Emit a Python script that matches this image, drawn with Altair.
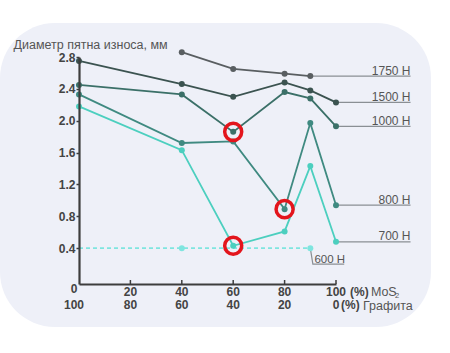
import altair as alt
import pandas as pd

# ---- data ----
series_names = ["1750 H", "1500 H", "1000 H", "800 H", "700 H", "600 H"]
x_1750 = [40, 60, 80, 90]
y_1750 = [2.86, 2.65, 2.59, 2.56]
x_1500 = [0, 40, 60, 80, 90, 100]
y_1500 = [2.75, 2.46, 2.30, 2.48, 2.38, 2.23]
x_1000 = [0, 40, 60, 80, 90, 100]
y_1000 = [2.45, 2.33, 1.86, 2.36, 2.28, 1.93]
x_800 = [0, 40, 60, 80, 90, 100]
y_800 = [2.33, 1.72, 1.74, 0.89, 1.97, 0.94]
x_700 = [0, 40, 60, 80, 90, 100]
y_700 = [2.18, 1.63, 0.43, 0.61, 1.43, 0.48]
x_600 = [0, 40, 60, 90]
y_600 = [0.4, 0.4, 0.4, 0.4]
marker_600 = [False, True, False, True]

highlight_x = [60, 80, 60]
highlight_y = [1.86, 0.89, 0.43]

mos2_ticks = [0, 20, 40, 60, 80, 100]
mos2_labels = ["0", "20", "40", "60", "80", "100"]
graphite_labels = ["100", "80", "60", "40", "20", "0"]
y_ticks = [0.4, 0.8, 1.2, 1.6, 2.0, 2.4, 2.8]

colors = ["#595e61", "#3b5350", "#3b7068", "#3f8a81", "#4ccfbf", "#7fe5df"]

# ---- tables ----
rows = []
for name, xs, ys in [("1750 H", x_1750, y_1750), ("1500 H", x_1500, y_1500),
                     ("1000 H", x_1000, y_1000), ("800 H", x_800, y_800),
                     ("700 H", x_700, y_700)]:
    for i, (a, b) in enumerate(zip(xs, ys)):
        rows.append({"series": name, "x": a, "y": b, "o": i, "m": True})
for i, (a, b, m) in enumerate(zip(x_600, y_600, marker_600)):
    rows.append({"series": "600 H", "x": a, "y": b, "o": i, "m": m})
df = pd.DataFrame(rows)

label_end = 129
lead_rows = []
for name, xs, ys in [("1750 H", x_1750, y_1750), ("1500 H", x_1500, y_1500),
                     ("1000 H", x_1000, y_1000), ("800 H", x_800, y_800),
                     ("700 H", x_700, y_700)]:
    lead_rows.append({"series": name, "o": 0, "x": xs[-1], "y": ys[-1]})
    lead_rows.append({"series": name, "o": 1, "x": label_end, "y": ys[-1]})
lead_rows += [
    {"series": "600 H", "o": 0, "x": x_600[-1], "y": y_600[-1]},
    {"series": "600 H", "o": 1, "x": 91.0, "y": 0.2},
    {"series": "600 H", "o": 2, "x": 103.2, "y": 0.2},
]
lead = pd.DataFrame(lead_rows)

lab = pd.DataFrame({
    "series": series_names[:5],
    "x": [label_end] * 5,
    "y": [y_1750[-1], y_1500[-1], y_1000[-1], y_800[-1], y_700[-1]],
})
lab600 = pd.DataFrame({"series": ["600 H"], "x": [91.6], "y": [0.2]})

hl = pd.DataFrame({"x": highlight_x, "y": highlight_y})
xl = pd.DataFrame({"x": mos2_ticks, "top": mos2_labels, "bot": graphite_labels})

FONT = "Liberation Sans"
xs_ = alt.Scale(domain=[0, 100], nice=False, zero=False)
ys_ = alt.Scale(domain=[-0.05, 2.8], nice=False, zero=False)
cs = alt.Scale(domain=series_names, range=colors)

x_axis = alt.Axis(labels=False, ticks=False, title=None, grid=False, zindex=1,
                  domainColor="#3d3d3d", domainWidth=2.2)
y_axis = alt.Axis(
    values=y_ticks, format=".1f", grid=False, zindex=1,
    title="Диаметр пятна износа, мм", titleAngle=0, titleAlign="left",
    titleX=-66, titleY=-13, titleBaseline="middle", titleFontWeight="normal",
    titleFontSize=12.5, titleColor="#555555", titleFont=FONT,
    labelFont=FONT, labelFontWeight="bold", labelFontSize=12, labelColor="#444444",
    labelPadding=1, tickSize=3, tickColor="#3d3d3d", tickWidth=1.5,
    domainColor="#3d3d3d", domainWidth=2.2)

X = lambda: alt.X("x:Q", scale=xs_, axis=x_axis, title=None)
Y = lambda: alt.Y("y:Q", scale=ys_, axis=y_axis, title="Диаметр пятна износа, мм")

one = pd.DataFrame({"a": [0]})
bg = alt.Chart(one).mark_rect(color="#eef0f8", cornerRadius=55).encode(
    x=alt.value(-79), x2=alt.value(352), y=alt.value(-34), y2=alt.value(270)
)

xticks = alt.Chart(xl[xl.x > 0]).mark_rule(color="#3d3d3d", strokeWidth=1.5).encode(
    x=X(), y=alt.value(223), y2=alt.value(227)
)

leaders = alt.Chart(lead).mark_line(color="#8a8f94", strokeWidth=1.2).encode(
    x=X(), y=Y(), detail="series:N", order="o:Q"
)

solid = alt.Chart(df[df.series != "600 H"]).mark_line(strokeWidth=1.8).encode(
    x=X(), y=Y(), color=alt.Color("series:N", scale=cs, legend=None),
    detail="series:N", order="o:Q"
)
dashed = alt.Chart(df[df.series == "600 H"]).mark_line(strokeWidth=1.6, strokeDash=[4, 3]).encode(
    x=X(), y=Y(), color=alt.Color("series:N", scale=cs, legend=None), order="o:Q"
)
pts = alt.Chart(df[df.m]).mark_circle(size=36, opacity=1).encode(
    x=X(), y=Y(), color=alt.Color("series:N", scale=cs, legend=None)
)

labels = alt.Chart(lab).mark_text(align="right", baseline="alphabetic", dy=-1.5,
                                  font=FONT, fontSize=12, color="#555555").encode(
    x=X(), y=Y(), text="series:N"
)
labels600 = alt.Chart(lab600).mark_text(align="left", baseline="alphabetic", dy=-1.5,
                                        font=FONT, fontSize=11.5, color="#555555").encode(
    x=X(), y=Y(), text="series:N"
)

circles = alt.Chart(hl).mark_point(shape="circle", size=290, filled=False,
                                   color="#e3151c", strokeWidth=3.5, opacity=1).encode(
    x=X(), y=Y()
)

xt_first = alt.Chart(xl[xl.x == 0])
xt_rest = alt.Chart(xl[xl.x > 0])
tstyle = dict(font=FONT, fontWeight="bold", fontSize=12, color="#444444", baseline="middle")
top1 = xt_first.mark_text(dx=-5, **tstyle).encode(x=X(), y=alt.value(232), text="top:N")
bot1 = xt_first.mark_text(dx=-5, **tstyle).encode(x=X(), y=alt.value(248), text="bot:N")
top2 = xt_rest.mark_text(**tstyle).encode(x=X(), y=alt.value(235), text="top:N")
bot2 = xt_rest.mark_text(**tstyle).encode(x=X(), y=alt.value(248), text="bot:N")

pct1 = alt.Chart(one).mark_text(align="left", dx=14, **tstyle).encode(
    x=alt.datum(100, scale=xs_, axis=x_axis), y=alt.value(235), text=alt.value("(%)"))
pct2 = alt.Chart(one).mark_text(align="left", dx=5, **tstyle).encode(
    x=alt.datum(100, scale=xs_, axis=x_axis), y=alt.value(248), text=alt.value("(%)"))
nstyle = dict(font=FONT, fontSize=12.5, color="#555555", baseline="middle", align="left")
mos = alt.Chart(one).mark_text(dx=35, **nstyle).encode(
    x=alt.datum(100, scale=xs_, axis=x_axis), y=alt.value(235), text=alt.value("MoS"))
sub2 = alt.Chart(one).mark_text(dx=59, font=FONT, fontSize=7.5, color="#555555",
                                baseline="middle", align="left").encode(
    x=alt.datum(100, scale=xs_, axis=x_axis), y=alt.value(239), text=alt.value("2"))
graf = alt.Chart(one).mark_text(dx=27, **nstyle).encode(
    x=alt.datum(100, scale=xs_, axis=x_axis), y=alt.value(249), text=alt.value("Графита"))

chart = alt.layer(
    bg, xticks, leaders, dashed, solid, pts, circles, labels, labels600,
    top1, bot1, top2, bot2, pct1, pct2, mos, sub2, graf
).properties(
    width=257, height=227,
    padding={"left": 79, "top": 57, "right": 114, "bottom": 69},
    autosize=alt.AutoSizeParams(type="none"),
    background="white",
).configure_view(stroke=None)

chart.save("out.html", embed_options={"renderer": "svg", "actions": False})
